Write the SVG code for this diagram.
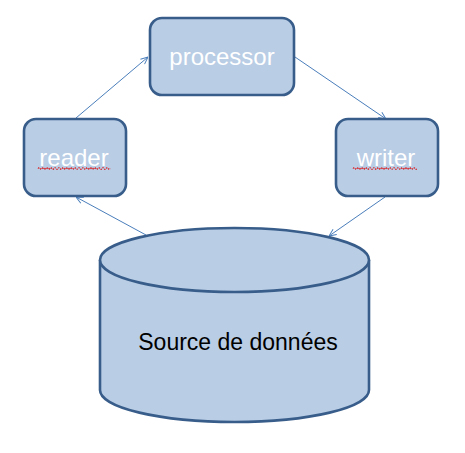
<svg xmlns="http://www.w3.org/2000/svg" width="465" height="453" viewBox="0 0 465 453">
<style>
.box{fill:#b9cde5;stroke:#385d8a;stroke-width:2.6}
.lbl{font-family:"Liberation Sans",Arial,sans-serif;fill:#ffffff;text-anchor:middle}
.conn{stroke:#4a7ebb;stroke-width:1;fill:none;marker-end:url(#arr)}
.spell{stroke:#e00000;stroke-width:1.1;fill:none;stroke-dasharray:1.5 0.8}
</style>
<defs>
<marker id="arr" viewBox="0 0 10 10" refX="10" refY="5" markerWidth="8" markerHeight="8" markerUnits="userSpaceOnUse" orient="auto">
<path d="M1,1 L10,5 L1,9" fill="none" stroke="#4a7ebb" stroke-width="1.2"/>
</marker>
</defs>
<rect width="465" height="453" fill="#ffffff"/>
<g id="connectors">
<line class="conn" x1="76" y1="118" x2="148" y2="57"/>
<line class="conn" x1="295" y1="57" x2="386" y2="119"/>
<line class="conn" x1="385" y1="197" x2="329" y2="236"/>
<line class="conn" x1="146" y1="235" x2="76" y2="197"/>
</g>
<g id="processor">
<rect class="box" x="150" y="18" width="144" height="77" rx="12"/>
<text class="lbl" x="222" y="65" font-size="24">processor</text>
</g>
<g id="reader">
<rect class="box" x="24" y="119" width="102" height="77" rx="12"/>
<text class="lbl" x="74" y="166" font-size="24">reader</text>
<path class="spell" d="M38,168.5 q1,-1.5 2,0 t2,0 t2,0 t2,0 t2,0 t2,0 t2,0 t2,0 t2,0 t2,0 t2,0 t2,0 t2,0 t2,0 t2,0 t2,0 t2,0 t2,0 t2,0 t2,0 t2,0 t2,0 t2,0 t2,0 t2,0 t2,0 t2,0 t2,0 t2,0 t2,0 t2,0 t2,0 t2,0 t2,0 t2,0 t2,0"/>
</g>
<g id="writer">
<rect class="box" x="336" y="119" width="102" height="77" rx="12"/>
<text class="lbl" x="386" y="166" font-size="24">writer</text>
<path class="spell" d="M353,168.5 q1,-1.5 2,0 t2,0 t2,0 t2,0 t2,0 t2,0 t2,0 t2,0 t2,0 t2,0 t2,0 t2,0 t2,0 t2,0 t2,0 t2,0 t2,0 t2,0 t2,0 t2,0 t2,0 t2,0 t2,0 t2,0 t2,0 t2,0 t2,0 t2,0 t2,0 t2,0 t2,0 t2,0"/>
</g>
<g id="source">
<path class="box" d="M100,260 L100,390 A134.5,32 0 0 0 369,390 L369,260"/>
<ellipse class="box" cx="234.5" cy="260" rx="134.5" ry="32"/>
<text x="238" y="350" font-family="Liberation Sans,Arial,sans-serif" font-size="23" fill="#000000" text-anchor="middle">Source de données</text>
</g>
</svg>
